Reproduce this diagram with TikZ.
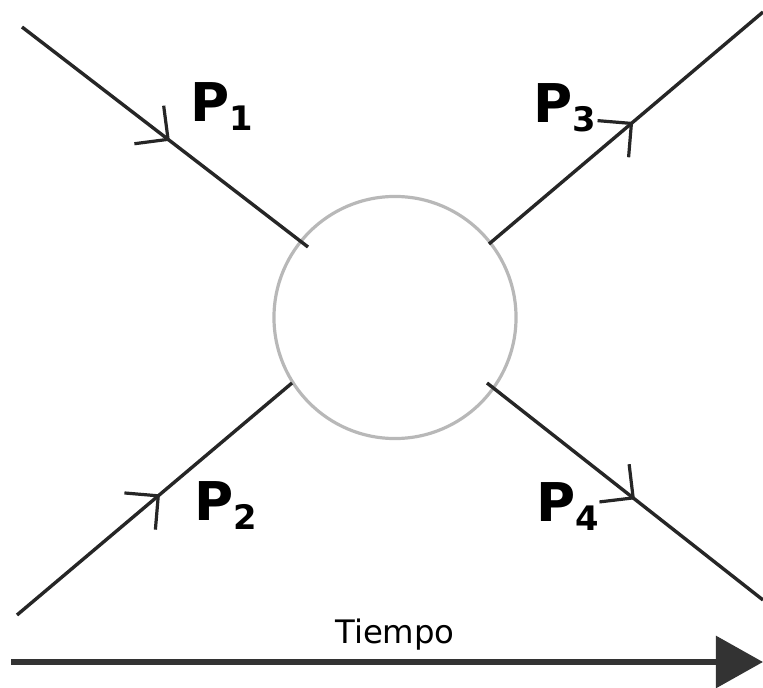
\documentclass[tikz,border=0pt]{standalone}
\usepackage{fontspec}
\setsansfont{DejaVu Sans}
\usetikzlibrary{arrows.meta,decorations.markings}

\tikzset{
  leg/.style={line width=0.085cm, draw=black!85, postaction={decorate},
    decoration={markings, mark=at position #1 with
      {\arrow{Straight Barb[length=0.6cm,width=1.2cm,line width=0.08cm]}}}},
  blob/.style={circle, draw=black!28, line width=0.08cm, minimum size=6.05cm, inner sep=0},
  plabel/.style={anchor=base west, inner sep=0, font=\sffamily\bfseries\fontsize{38}{40}\selectfont},
  timeline/.style={line width=0.15cm, draw=black!80,
    -{Triangle[length=1.175cm,width=1.275cm,fill=black!80]}}
}
\newcommand{\psub}[1]{P\raisebox{-0.225cm}{\fontsize{24}{26}\selectfont #1}}

\begin{document}
\begin{tikzpicture}[x=0.025cm,y=-0.025cm]
\useasboundingbox (0,0) rectangle (763,688);

% interaction blob
\node[blob] (vx) at (395,317.5) {};

% external legs
\coordinate (p1out) at (22,27);
\coordinate (p1in) at (308,247);
\coordinate (p2out) at (17,615);
\coordinate (p2in) at (292,383);
\coordinate (p3in) at (489,244);
\coordinate (p3out) at (763,12);
\coordinate (p4in) at (487,383);
\coordinate (p4out) at (763,600);

\draw[leg=0.517] (p1out) -- (p1in);
\draw[leg=0.52] (p2out) -- (p2in);
\draw[leg=0.526] (p3in) -- (p3out);
\draw[leg=0.536] (p4in) -- (p4out);

% momenta
\node[plabel] (l1) at (190,122) {\psub{1}};
\node[plabel] (l3) at (533,123) {\psub{3}};
\node[plabel] (l2) at (194,520) {\psub{2}};
\node[plabel] (l4) at (536,521) {\psub{4}};

% time axis
\coordinate (t0) at (11,662);
\coordinate (t1) at (763,662);
\draw[timeline] (t0) -- (t1);
\node[anchor=base, inner sep=0, font=\sffamily\fontsize{23}{25}\selectfont] (tlab) at (395,643) {Tiempo};

\end{tikzpicture}
\end{document}
